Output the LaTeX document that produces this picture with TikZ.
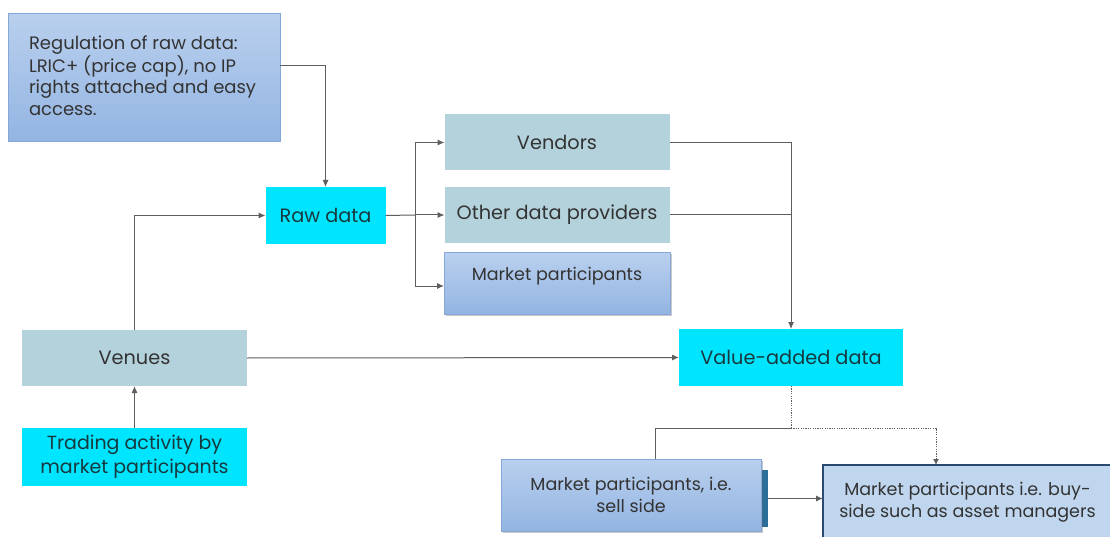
\documentclass[tikz,border=0pt]{standalone}
\usepackage{fontspec}
\setmainfont{Poppins}
\usetikzlibrary{arrows.meta,shadows}

\definecolor{cyanbox}{HTML}{00E5FF}
\definecolor{greybox}{HTML}{B4D2DC}
\definecolor{bluetop}{HTML}{B9D0EE}
\definecolor{bluebot}{HTML}{93B4E2}
\definecolor{blueedge}{HTML}{86A8D8}
\definecolor{buyfill}{HTML}{BFD6EE}
\definecolor{buyedge}{HTML}{2B4A70}
\definecolor{tabcol}{HTML}{2C6E9A}
\definecolor{wire}{HTML}{5E5E5E}
\definecolor{inktxt}{HTML}{333333}
\definecolor{tealtxt}{HTML}{17393E}

\tikzset{
  base/.style={inner sep=0pt, outer sep=0pt, align=center},
  cyanbox/.style={base, fill=cyanbox, text=tealtxt, font=\fontsize{19.3}{24}\selectfont},
  greybox/.style={base, fill=greybox, text=inktxt, font=\fontsize{19.3}{24}\selectfont},
  bluebox/.style={base, draw=blueedge, line width=1pt, top color=bluetop, bottom color=bluebot,
    text=inktxt, font=\fontsize{17.5}{22}\selectfont},
  shadowed/.style={drop shadow={shadow xshift=1.5pt, shadow yshift=-1.5pt, opacity=0.35, fill=black!60}},
  conn/.style={draw=wire, line width=1pt},
  arr/.style={conn, -{Latex[length=7pt,width=6pt]}},
  dotconn/.style={conn, dash pattern=on 1.2pt off 1.2pt},
}

\begin{document}
\begin{tikzpicture}[x=1pt, y=-1pt]
  \clip (0,0) rectangle (1110,537);
  \fill[white] (0,0) rectangle (1110,537);

  % regulation note: left-aligned lines in a fixed-width slot
  \node[bluebox, minimum width=272pt, minimum height=128pt,
        font=\fontsize{18}{21.5}\selectfont] (reg) at (144,78)
    {\makebox[230pt][l]{\begin{tabular}{@{}l@{}}Regulation of raw data:\\LRIC+ (price cap), no IP\\rights attached and easy\\access.\end{tabular}}};

  % raw data and its recipients
  \node[cyanbox, minimum width=120pt, minimum height=57pt] (raw) at (325.5,215.5) {Raw data};
  \node[greybox, minimum width=225pt, minimum height=56pt] (vend) at (557,142.5) {Vendors};
  \node[greybox, minimum width=225pt, minimum height=56pt] (other) at (557,215) {Other data providers};
  \node[bluebox, shadowed, minimum width=226pt, minimum height=61pt,
        text height=13pt, text depth=19pt] (mp) at (557,283.5) {Market participants};

  % venues and trading activity
  \node[greybox, minimum width=225pt, minimum height=56pt] (venues) at (134.5,358) {Venues};
  \node[cyanbox, minimum width=225pt, minimum height=58pt, font=\fontsize{19}{24}\selectfont]
    (trade) at (134.5,456.5) {Trading activity by\\market participants};

  % value-added data
  \node[cyanbox, minimum width=224pt, minimum height=57pt] (value) at (791,357.5) {Value-added data};

  % sell side and buy side
  \node[base, fill=tabcol, minimum width=7pt, minimum height=57pt] (tab) at (764.5,498.5) {};
  \node[bluebox, shadowed, minimum width=260pt, minimum height=72pt] (sell) at (631,495)
    {Market participants, i.e.\\sell side};
  \node[base, fill=buyfill, draw=buyedge, line width=1.6pt, minimum width=289pt, minimum height=75pt,
        text=inktxt, font=\fontsize{17.5}{22}\selectfont] (buy) at (967.5,502.5)
    {Market participants i.e. buy-\\side such as asset managers};

  % helper points for branching wires
  \coordinate (br) at (415,215);
  \coordinate (sp) at (791,428);
  \coordinate (sl) at (655,428);
  \coordinate (dr) at (936,428);

  % connectors
  \draw[arr] ([yshift=12pt]reg.east) -| (raw.north);
  \draw[conn] (raw.east) -- (br);
  \draw[conn] (br |- vend.west) -- ([yshift=-2.5pt]br |- mp.west);
  \draw[arr] (br |- vend.west) -- (vend.west);
  \draw[arr] (br) -- (other.west);
  \draw[arr] ([yshift=-2.5pt]br |- mp.west) -- ([yshift=-2.5pt]mp.west);

  \draw[arr] (vend.east) -| (value.north);
  \draw[conn] (other.east) -- (other.east -| value.north);

  \draw[arr] (venues.north) |- (raw.west);
  \draw[arr] (trade.north) -- (venues.south);
  \draw[arr] (venues.east) -- (value.west);

  \draw[dotconn] (value.south) -- (sp);
  \draw[conn] (sp) -- (sl) -- (sl |- sell.north);
  \draw[dotconn, -{Latex[length=6pt,width=6pt]}] (sp) -- (dr) -- (dr |- buy.north);
  \draw[arr] (tab.east) -- (tab.east -| buy.west);
\end{tikzpicture}
\end{document}
